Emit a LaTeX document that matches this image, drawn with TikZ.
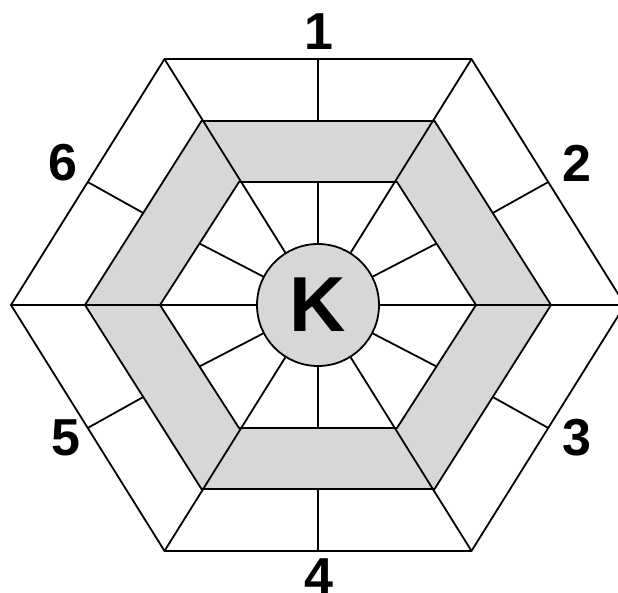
\documentclass[tikz,border=0pt]{standalone}
\usepackage{fontspec}
\setmainfont{Liberation Sans}
\usetikzlibrary{calc}
\definecolor{bandgray}{RGB}{215,215,215}
\tikzset{
  hexline/.style={line width=1.8pt, line join=miter},
  numlabel/.style={font=\fontsize{52}{52}\selectfont\bfseries, inner sep=0pt},
}

\begin{document}
\begin{tikzpicture}[x=1pt,y=1pt]
  % picture frame
  \clip (-318,-287) rectangle (300,305);

  % hexagon corners: outer (o), middle (m), inner (i)
  \foreach \k in {1,...,6}{
    \pgfmathsetmacro{\a}{60*(\k-1)}
    \coordinate (o\k) at ({307*cos(\a)},{284*sin(\a)});
    \coordinate (m\k) at ({233*cos(\a)},{212.5*sin(\a)});
    \coordinate (i\k) at ({158*cos(\a)},{142*sin(\a)});
  }
  % edge midpoints
  \foreach \k in {1,...,6}{
    \pgfmathtruncatemacro{\n}{mod(\k,6)+1}
    \coordinate (om\k) at ($(o\k)!0.5!(o\n)$);
    \coordinate (mm\k) at ($(m\k)!0.5!(m\n)$);
    \coordinate (im\k) at ($(i\k)!0.5!(i\n)$);
  }

  % grey band
  \fill[bandgray,even odd rule] (m1) -- (m2) -- (m3) -- (m4) -- (m5) -- (m6) -- cycle
    (i1) -- (i2) -- (i3) -- (i4) -- (i5) -- (i6) -- cycle;

  % hexagons
  \draw[hexline] (o1) -- (o2) -- (o3) -- (o4) -- (o5) -- (o6) -- cycle;
  \draw[hexline] (m1) -- (m2) -- (m3) -- (m4) -- (m5) -- (m6) -- cycle;
  \draw[hexline] (i1) -- (i2) -- (i3) -- (i4) -- (i5) -- (i6) -- cycle;

  % centre
  \node[circle, draw, line width=1.8pt, fill=bandgray, minimum size=122pt, inner sep=0pt,
        font=\fontsize{78}{78}\selectfont\bfseries] (K) at (0,0) {K};

  % spokes
  \foreach \k in {1,...,6}{
    \draw[hexline] (K) -- (o\k);
    \draw[hexline] (K) -- (im\k);
    \draw[hexline] (mm\k) -- (om\k);
  }

  % sides
  \node[numlabel] (s1) at (1,273) {1};
  \node[numlabel] (s2) at (259,142) {2};
  \node[numlabel] (s3) at (259,-133) {3};
  \node[numlabel] (s4) at (1,-272) {4};
  \node[numlabel] (s5) at (-252,-133) {5};
  \node[numlabel] (s6) at (-255,142) {6};
\end{tikzpicture}
\end{document}
